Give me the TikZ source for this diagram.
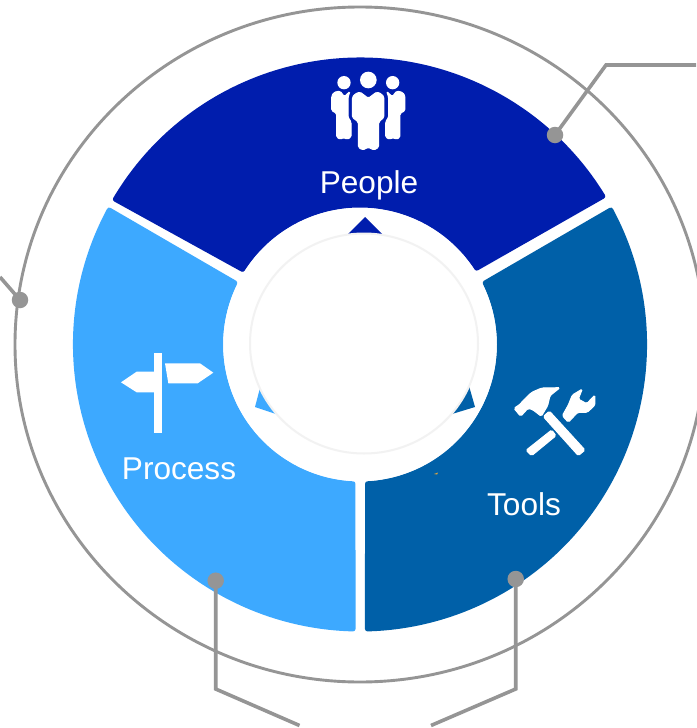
\documentclass[tikz,border=0pt]{standalone}
\usepackage{fontspec}
\setmainfont{Liberation Sans}
\definecolor{cPeople}{HTML}{001DAD}
\definecolor{cProcess}{HTML}{3DA9FF}
\definecolor{cTools}{HTML}{0060A8}
\definecolor{cLine}{HTML}{959595}
\definecolor{cRing}{HTML}{F2F2F2}
\definecolor{cSpeck}{HTML}{D9A441}
\tikzset{
  seg/.style={line width=5pt,line join=round},
  lbl/.style={text=white,font=\fontsize{31.6}{36}\selectfont,inner sep=0pt,anchor=center},
  leader/.style={draw=cLine,line width=3.6pt,line join=miter},
  dot/.style={circle,fill=cLine,minimum size=16.5pt,inner sep=0pt},
  iconround/.style={fill=white,draw=white,line width=1pt,rounded corners=1.5pt},
}
\begin{document}
\begin{tikzpicture}[x=1pt,y=-1pt]
\useasboundingbox (0,0) rectangle (696,728);
\fill[white] (0,0) rectangle (696,728);
\coordinate (C) at (360,344.5);
% outer ring
\draw[cLine,line width=2.9pt] (C) ellipse [x radius=345pt,y radius=337.5pt];
% segments
\begin{scope}[shift={(C)},y=1pt,x=1pt]
\def\Ro{284.5}\def\Ri{139.5}
\draw[seg,draw=cPeople,fill=cPeople]
  (149.3:\Ro) arc[start angle=149.3,end angle=31.4,radius=\Ro pt]
  -- (33.2:\Ri) arc[start angle=33.2,end angle=147.4,radius=\Ri pt] -- cycle;
\draw[seg,draw=cProcess,fill=cProcess]
  (151.8:\Ro) arc[start angle=151.8,end angle=268.6,radius=\Ro pt]
  -- (267.1:\Ri) arc[start angle=267.1,end angle=153.8,radius=\Ri pt] -- cycle;
\draw[seg,draw=cTools,fill=cTools]
  (28.2:\Ro) arc[start angle=28.2,end angle=-88.5,radius=\Ro pt]
  -- (-86.9:\Ri) arc[start angle=-86.9,end angle=26.2,radius=\Ri pt] -- cycle;
\end{scope}
% inner triangles and discs
\fill[white] (C) circle[radius=136.5pt];
\fill[cPeople] (348,234) -- (365,217) -- (382,234) -- cycle;
\fill[cProcess] (260,388) -- (255,407) -- (276,414) -- cycle;
\fill[cTools] (469,386) -- (475,407) -- (452,414) -- cycle;
\draw[cRing,line width=2pt,fill=white] (364,343.5) ellipse [x radius=114pt,y radius=110pt];
\fill[cSpeck] (434,474) -- (438,472.5) -- (437,474.5) -- cycle;
% People icon
\begin{scope}[shift={(310,60)},x=0.3333pt,y=-0.3333pt]
\fill[white] (175,60) circle[radius=25];
\fill[white] (102,68) circle[radius=20];
\fill[white] (248,68) circle[radius=20];
\filldraw[iconround] (127,112) -- (135,102) -- (150,96) -- (175,115) -- (200,96) -- (215,102) -- (222,112) -- (222,172) -- (206,186) -- (206,262) -- (192,270) -- (175,262) -- (158,270) -- (145,262) -- (145,186) -- (127,172) -- cycle;
\filldraw[iconround] (65,108) -- (72,97) -- (90,93) -- (103,110) -- (120,94) -- (114,112) -- (114,172) -- (123,185) -- (123,232) -- (110,238) -- (101,232) -- (92,238) -- (80,232) -- (80,160) -- (65,152) -- cycle;
\filldraw[iconround] (285,108) -- (278,97) -- (260,93) -- (247,110) -- (230,94) -- (236,112) -- (236,172) -- (227,185) -- (227,232) -- (240,238) -- (249,232) -- (258,238) -- (270,232) -- (270,160) -- (285,152) -- cycle;
\end{scope}
% Signpost icon
\begin{scope}[shift={(100,340)},x=0.3333pt,y=-0.3333pt]
\fill[white] (163,38) rectangle (185,278);
\fill[white] (63,127) -- (110,95) -- (163,95) -- (163,157) -- (110,157) -- cycle;
\fill[white] (195,70) -- (300,70) -- (340,98) -- (293,130) -- (205,130) -- cycle;
\end{scope}
% Tools icon
\begin{scope}[shift={(500,375)},x=0.3333pt,y=-0.3333pt]
\filldraw[iconround] (42,100) -- (62,124) -- (84,100) -- (98,104) -- (124,124) -- (143,92) -- (150,62) -- (180,38) -- (125,39) -- (95,52) -- (68,78) -- (60,88) -- cycle;
\filldraw[iconround] (130,125) -- (148,108) -- (255,225) -- (235,242) -- cycle;
\filldraw[iconround] (78,226) -- (155,165) -- (168,182) -- (95,242) -- cycle;
\filldraw[iconround] (187,122) -- (205,142) -- (233,112) -- (262,112) -- (285,90) -- (285,60) -- (260,86) -- (235,72) -- (247,42) -- (217,60) -- (205,90) -- cycle;
\end{scope}
% labels
\node[lbl] (people) at (369,185.5) {People};
\node[lbl] (process) at (179,469) {Process};
\node[lbl] (tools) at (524,504) {Tools};
% connectors
\node[dot] (dTR) at (555,135) {};
\node[dot] (dL) at (20,300) {};
\node[dot] (dP) at (215.7,580.7) {};
\node[dot] (dT) at (515.7,579) {};
\coordinate (kTR) at (606,65);
\coordinate (eTR) at (696,65);
\coordinate (eL) at (0,277);
\coordinate (kP) at (215.7,689);
\coordinate (eP) at (299.5,725.5);
\coordinate (kT) at (515.7,689);
\coordinate (eT) at (431,725.5);
\draw[leader] (dTR.center) -- (kTR) -- (eTR);
\draw[leader] (dL.center) -- (eL);
\draw[leader] (dP.center) -- (kP) -- (eP);
\draw[leader] (dT.center) -- (kT) -- (eT);
\end{tikzpicture}
\end{document}
